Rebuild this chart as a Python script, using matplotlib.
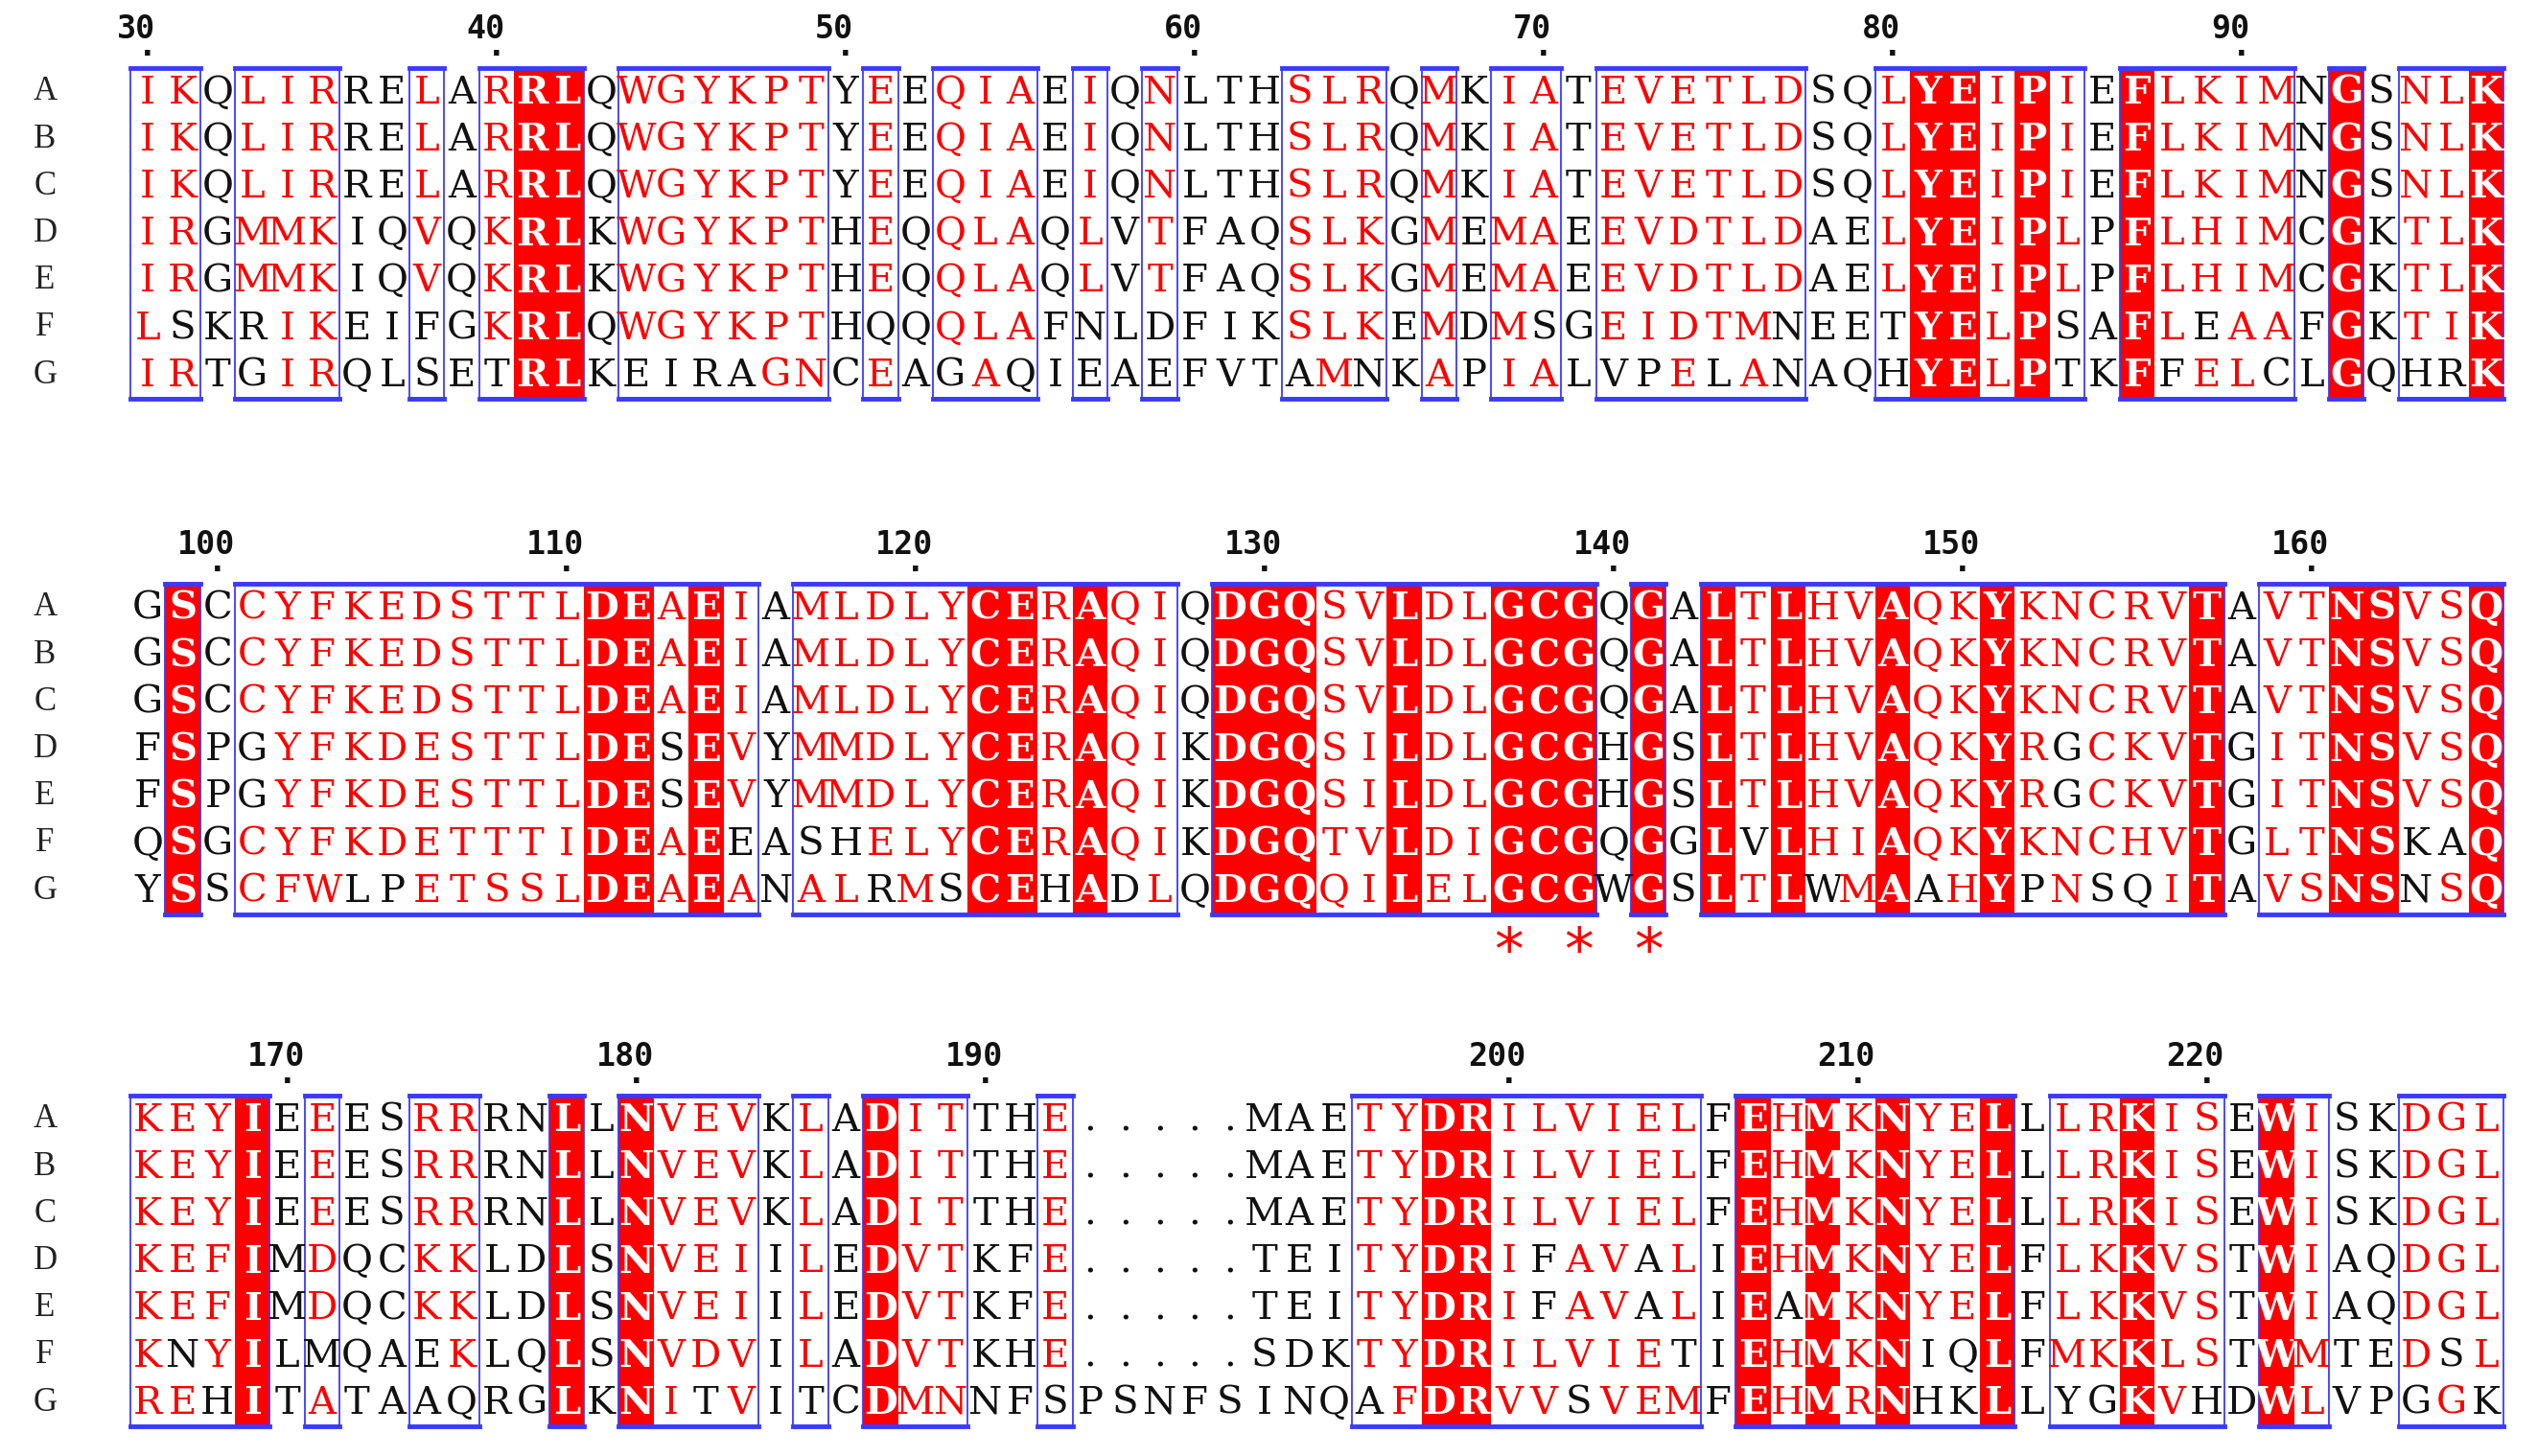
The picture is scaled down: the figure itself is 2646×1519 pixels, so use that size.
import matplotlib
matplotlib.use("Agg")
import matplotlib.pyplot as plt
from matplotlib.patches import Rectangle

row_names = ["A", "B", "C", "D", "E", "F", "G"]

# sequence blocks (rows A..G)
block1_seqs = [
    "IKQLIRRELARRLQWGYKPTYEEQIAEIQNLTHSLRQMKIATEVETLDSQLYEIPIEFLKIMNGSNLK",
    "IKQLIRRELARRLQWGYKPTYEEQIAEIQNLTHSLRQMKIATEVETLDSQLYEIPIEFLKIMNGSNLK",
    "IKQLIRRELARRLQWGYKPTYEEQIAEIQNLTHSLRQMKIATEVETLDSQLYEIPIEFLKIMNGSNLK",
    "IRGMMKIQVQKRLKWGYKPTHEQQLAQLVTFAQSLKGMEMAEEVDTLDAELYEIPLPFLHIMCGKTLK",
    "IRGMMKIQVQKRLKWGYKPTHEQQLAQLVTFAQSLKGMEMAEEVDTLDAELYEIPLPFLHIMCGKTLK",
    "LSKRIKEIFGKRLQWGYKPTHQQQLAFNLDFIKSLKEMDMSGEIDTMNEETYELPSAFLEAAFGKTIK",
    "IRTGIRQLSETRLKEIRAGNCEAGAQIEAEFVTAMNKAPIALVPELANAQHYELPTKFFELCLGQHRK",
]
block2_seqs = [
    "GSCCYFKEDSTTLDEAEIAMLDLYCERAQIQDGQSVLDLGCGQGALTLHVAQKYKNCRVTAVTNSVSQ",
    "GSCCYFKEDSTTLDEAEIAMLDLYCERAQIQDGQSVLDLGCGQGALTLHVAQKYKNCRVTAVTNSVSQ",
    "GSCCYFKEDSTTLDEAEIAMLDLYCERAQIQDGQSVLDLGCGQGALTLHVAQKYKNCRVTAVTNSVSQ",
    "FSPGYFKDESTTLDESEVYMMDLYCERAQIKDGQSILDLGCGHGSLTLHVAQKYRGCKVTGITNSVSQ",
    "FSPGYFKDESTTLDESEVYMMDLYCERAQIKDGQSILDLGCGHGSLTLHVAQKYRGCKVTGITNSVSQ",
    "QSGCYFKDETTTIDEAEEASHELYCERAQIKDGQTVLDIGCGQGGLVLHIAQKYKNCHVTGLTNSKAQ",
    "YSSCFWLPETSSLDEAEANALRMSCEHADLQDGQQILELGCGWGSLTLWMAAHYPNSQITAVSNSNSQ",
]
block3_seqs = [
    "KEYIEEESRRRNLLNVEVKLADITTHE.....MAETYDRILVIELFEHMKNYELLLRKISEWISKDGL",
    "KEYIEEESRRRNLLNVEVKLADITTHE.....MAETYDRILVIELFEHMKNYELLLRKISEWISKDGL",
    "KEYIEEESRRRNLLNVEVKLADITTHE.....MAETYDRILVIELFEHMKNYELLLRKISEWISKDGL",
    "KEFIMDQCKKLDLSNVEIILEDVTKFE.....TEITYDRIFAVALIEHMKNYELFLKKVSTWIAQDGL",
    "KEFIMDQCKKLDLSNVEIILEDVTKFE.....TEITYDRIFAVALIEAMKNYELFLKKVSTWIAQDGL",
    "KNYILMQAEKLQLSNVDVILADVTKHE.....SDKTYDRILVIETIEHMKNIQLFMKKLSTWMTEDSL",
    "REHITATAAQRGLKNITVITCDMNNFSPSNFSINQAFDRVVSVEMFEHMRNHKLLYGKVHDWLVPGGK",
]

# column class: W = strictly conserved, r = similar, . = none (10 columns per piece)
block1_cls = "".join(["rr.rrr..r.", "rWW.rrrrrr", ".r.rrr.r.r", "...rrr.r.r",
                      "r.rrrrrr..", "rWWrWr.Wrr", "rr.W.rrW"])
block2_cls = "".join([".W.rrrrrrr", "rrrWWrWr.r", "rrrrWWrWrr", ".WWWrrWrrW",
                      "WW.W.WrWrr", "WrrWrrrrrW", ".rrWWrrW"])
block3_cls = "".join(["rrrW.r..rr", "..W.Wrrr.r", ".Wrr..r...", ".....rrWWr",
                      "rrrrr.WrWr", "WrrW.rrWrr", ".Wr..rrr"])

# residues printed black inside similar columns (column: rows)
block1_black = {2: "F", 4: "FG", 9: "FG", 11: "G", 15: "G", 16: "G", 17: "G", 18: "G",
                22: "F", 24: "G", 26: "G", 28: "FG", 30: "FG", 34: "G", 36: "G", 41: "F",
                43: "G", 44: "G", 46: "G", 48: "FG", 51: "FG", 56: "FG", 59: "G", 60: "F",
                62: "G", 66: "G", 67: "G"}
block2_black = {4: "DE", 7: "G", 8: "G", 16: "DE", 18: "F", 20: "F", 21: "F", 22: "G",
                24: "G", 27: "G", 29: "G", 47: "F", 49: "G", 52: "G", 55: "G", 56: "DE",
                57: "G", 58: "G", 66: "FG", 67: "F"}
block3_black = {2: "F", 3: "G", 6: "F", 9: "FG", 10: "G", 17: "G", 20: "G", 27: "G",
                36: "G", 41: "DE", 42: "G", 44: "DE", 45: "F", 48: "E", 52: "FG", 53: "FG",
                56: "G", 57: "G", 60: "G", 66: "G", 67: "F", 68: "G"}

block_starts = [30, 98, 166]
star_cols = [40, 42, 44]  # block 2

RED = "#ff0000"
BLUE = "#3a3aff"

fig = plt.figure(figsize=(26.46, 15.19), dpi=100)
ax = fig.add_axes([0, 0, 1, 1])
ax.set_xlim(0, 2646)
ax.set_ylim(1519, 0)
ax.axis("off")

x0, dx = 154, 36.4
dy = 49.2
block_y = [96, 634, 1168]

blocks = [(block1_seqs, block1_cls, block1_black),
          (block2_seqs, block2_cls, block2_black),
          (block3_seqs, block3_cls, block3_black)]

for b, (seqs, cls, black) in enumerate(blocks):
    y0 = block_y[b]
    ncol = min(len(seqs[0]), len(cls))
    top = y0 - dy / 2
    bot = y0 + dy * (len(seqs) - 0.5)
    # conserved fills
    for c in range(ncol):
        if cls[c] == "W":
            ax.add_patch(Rectangle((x0 + (c - 0.5) * dx, top), dx, bot - top,
                                   facecolor=RED, edgecolor="none", zorder=1))
    # boxes around runs of non-empty columns
    c = 0
    while c < ncol:
        if cls[c] != ".":
            s = c
            while c < ncol and cls[c] != ".":
                c += 1
            xl = x0 + (s - 0.5) * dx
            xr = x0 + (c - 0.5) * dx
            ax.add_patch(Rectangle((xl, top), xr - xl, bot - top, fill=False,
                                   edgecolor=BLUE, lw=1.3, zorder=3))
            ax.plot([xl, xr], [top, top], color=BLUE, lw=3.5, zorder=3)
            ax.plot([xl, xr], [bot, bot], color=BLUE, lw=3.5, zorder=3)
        else:
            c += 1
    # letters
    for r, seq in enumerate(seqs):
        y = y0 + r * dy
        ax.text(47, y, row_names[r], fontsize=25, family="Liberation Serif",
                ha="center", va="center", color="#222222")
        for c, ch in enumerate(seq):
            k = cls[c] if c < len(cls) else "."
            if k == "W":
                col, wt = "white", "bold"
            elif k == "r" and row_names[r] not in black.get(c + 1, ""):
                col, wt = RED, "normal"
            else:
                col, wt = "#111111", "normal"
            ax.text(x0 + c * dx, y + 1, ch, fontsize=29, family="DejaVu Serif",
                    ha="center", va="center", color=col, fontweight=wt, zorder=4)
    # numbering from row A (gaps skipped)
    num = block_starts[b]
    for c, ch in enumerate(seqs[0]):
        if ch == ".":
            continue
        if num % 10 == 0:
            x = x0 + c * dx
            ax.text(x - 12, y0 - 66, str(num), fontsize=24, family="DejaVu Sans Mono",
                    fontweight="bold", ha="center", va="center", color="#111111")
            ax.text(x, y0 - 38, "\u00b7", fontsize=22, fontweight="bold",
                    ha="center", va="center", color="#111111")
        num += 1

for c in star_cols:
    ax.text(x0 + (c - 1) * dx, 995, "*", fontsize=44, ha="center", va="center",
            color=RED, family="DejaVu Sans")

fig.savefig("out.png", dpi=100)
